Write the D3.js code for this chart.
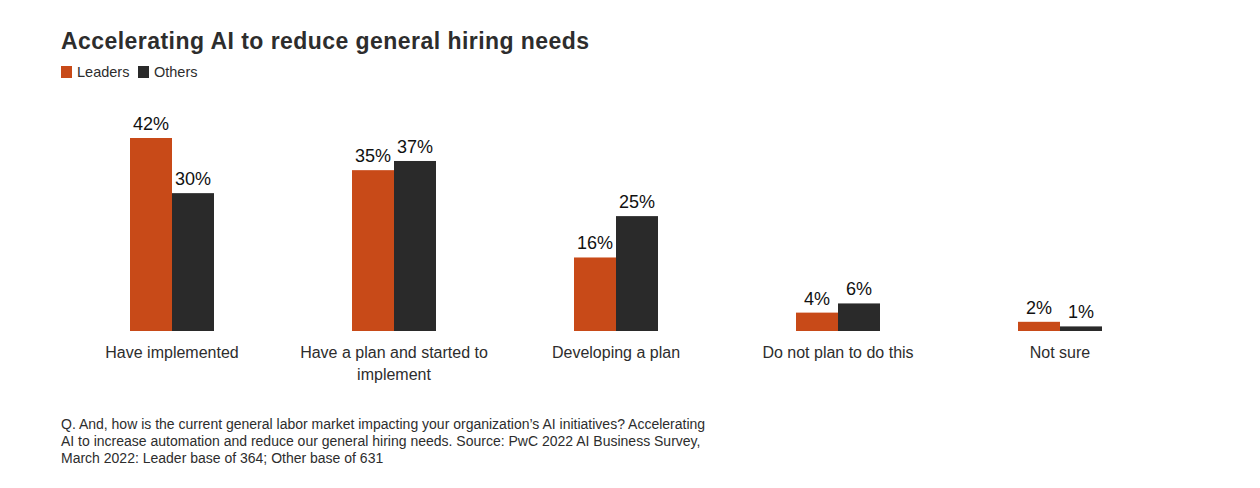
<!DOCTYPE html>
<html><head><meta charset="utf-8">
<script src="https://cdn.jsdelivr.net/npm/d3@7"></script>
<style>body{margin:0;background:#fff;font-family:"Liberation Sans",Arial,Helvetica,sans-serif;}</style>
</head><body>
<svg id="c" width="1260" height="488"></svg>
<script>
const categories = ["Have implemented", "Have a plan and started to implement", "Developing a plan", "Do not plan to do this", "Not sure"];
const series = ["Leaders", "Others"];
const leaders = [42, 35, 16, 4, 2];
const others = [30, 37, 25, 6, 1];
const colors = ["#c84a18", "#2a2a2a"];
const footnote = [
  "Q. And, how is the current general labor market impacting your organization\u2019s AI initiatives? Accelerating",
  "AI to increase automation and reduce our general hiring needs. Source: PwC 2022 AI Business Survey,",
  "March 2022: Leader base of 364; Other base of 631"
];

const svg = d3.select("#c");
const font = '"Liberation Sans",Arial,Helvetica,sans-serif';
const pi = 138/222;
const x0 = d3.scaleBand().domain(categories).range([61, 1171]).paddingInner(pi).paddingOuter(pi/2);
const x1 = d3.scaleBand().domain(series).range([0, x0.bandwidth()]);
const y = d3.scaleLinear().domain([0, 42]).range([331, 138]);
const color = d3.scaleOrdinal().domain(series).range(colors);

svg.append("text").attr("x", 61).attr("y", 49).attr("font-family", font).attr("font-size", 23)
  .attr("letter-spacing", 0.45)
  .attr("font-weight", "bold").attr("fill", "#2d2d2d").text("Accelerating AI to reduce general hiring needs");

// legend
const lg = svg.append("g");
const lx = [61, 138];
series.forEach((s, i) => {
  lg.append("rect").attr("x", lx[i]).attr("y", 66).attr("width", 11).attr("height", 12).attr("fill", color(s));
  lg.append("text").attr("x", lx[i] + 16).attr("y", 77).attr("font-family", font).attr("font-size", 14.5)
    .attr("fill", "#2d2d2d").text(s);
});

const data = categories.map((c, i) => ({cat: c, vals: [{s: "Leaders", v: leaders[i]}, {s: "Others", v: others[i]}]}));
const g = svg.append("g").selectAll("g").data(data).join("g").attr("transform", d => `translate(${x0(d.cat)},0)`);
g.selectAll("rect").data(d => d.vals).join("rect")
  .attr("x", d => x1(d.s)).attr("width", x1.bandwidth())
  .attr("y", d => y(d.v)).attr("height", d => y(0) - y(d.v)).attr("fill", d => color(d.s));
g.selectAll("text").data(d => d.vals).join("text")
  .attr("x", d => x1(d.s) + x1.bandwidth()/2).attr("y", d => y(d.v) - 8)
  .attr("text-anchor", "middle").attr("font-family", font).attr("font-size", 18).attr("fill", "#111")
  .text(d => d.v + "%");

// category axis labels
const axis = d3.axisBottom(x0).tickSize(0).tickPadding(0);
const ax = svg.append("g").attr("transform", "translate(0,331)").call(axis);
ax.select(".domain").remove();
ax.selectAll("text").attr("font-family", font).attr("font-size", 16).attr("fill", "#2d2d2d")
  .each(function(d) {
    const t = d3.select(this);
    t.text(null).attr("y", 0).attr("dy", null);
    const words = d.split(" ");
    let lines = [], cur = "";
    const measure = svg.append("text").attr("font-family", font).attr("font-size", 16);
    words.forEach(w => {
      const test = cur ? cur + " " + w : w;
      measure.text(test);
      if (measure.node().getComputedTextLength() > 210 && cur) { lines.push(cur); cur = w; } else cur = test;
    });
    lines.push(cur);
    measure.remove();
    lines.forEach((l, i) => t.append("tspan").attr("x", 0).attr("y", 27 + i * 22).text(l));
  });

const fn = svg.append("text").attr("font-family", font).attr("font-size", 14).attr("fill", "#2d2d2d");
footnote.forEach((l, i) => fn.append("tspan").attr("x", 61).attr("y", 429 + i * 17).text(l));
</script>
</body></html>
